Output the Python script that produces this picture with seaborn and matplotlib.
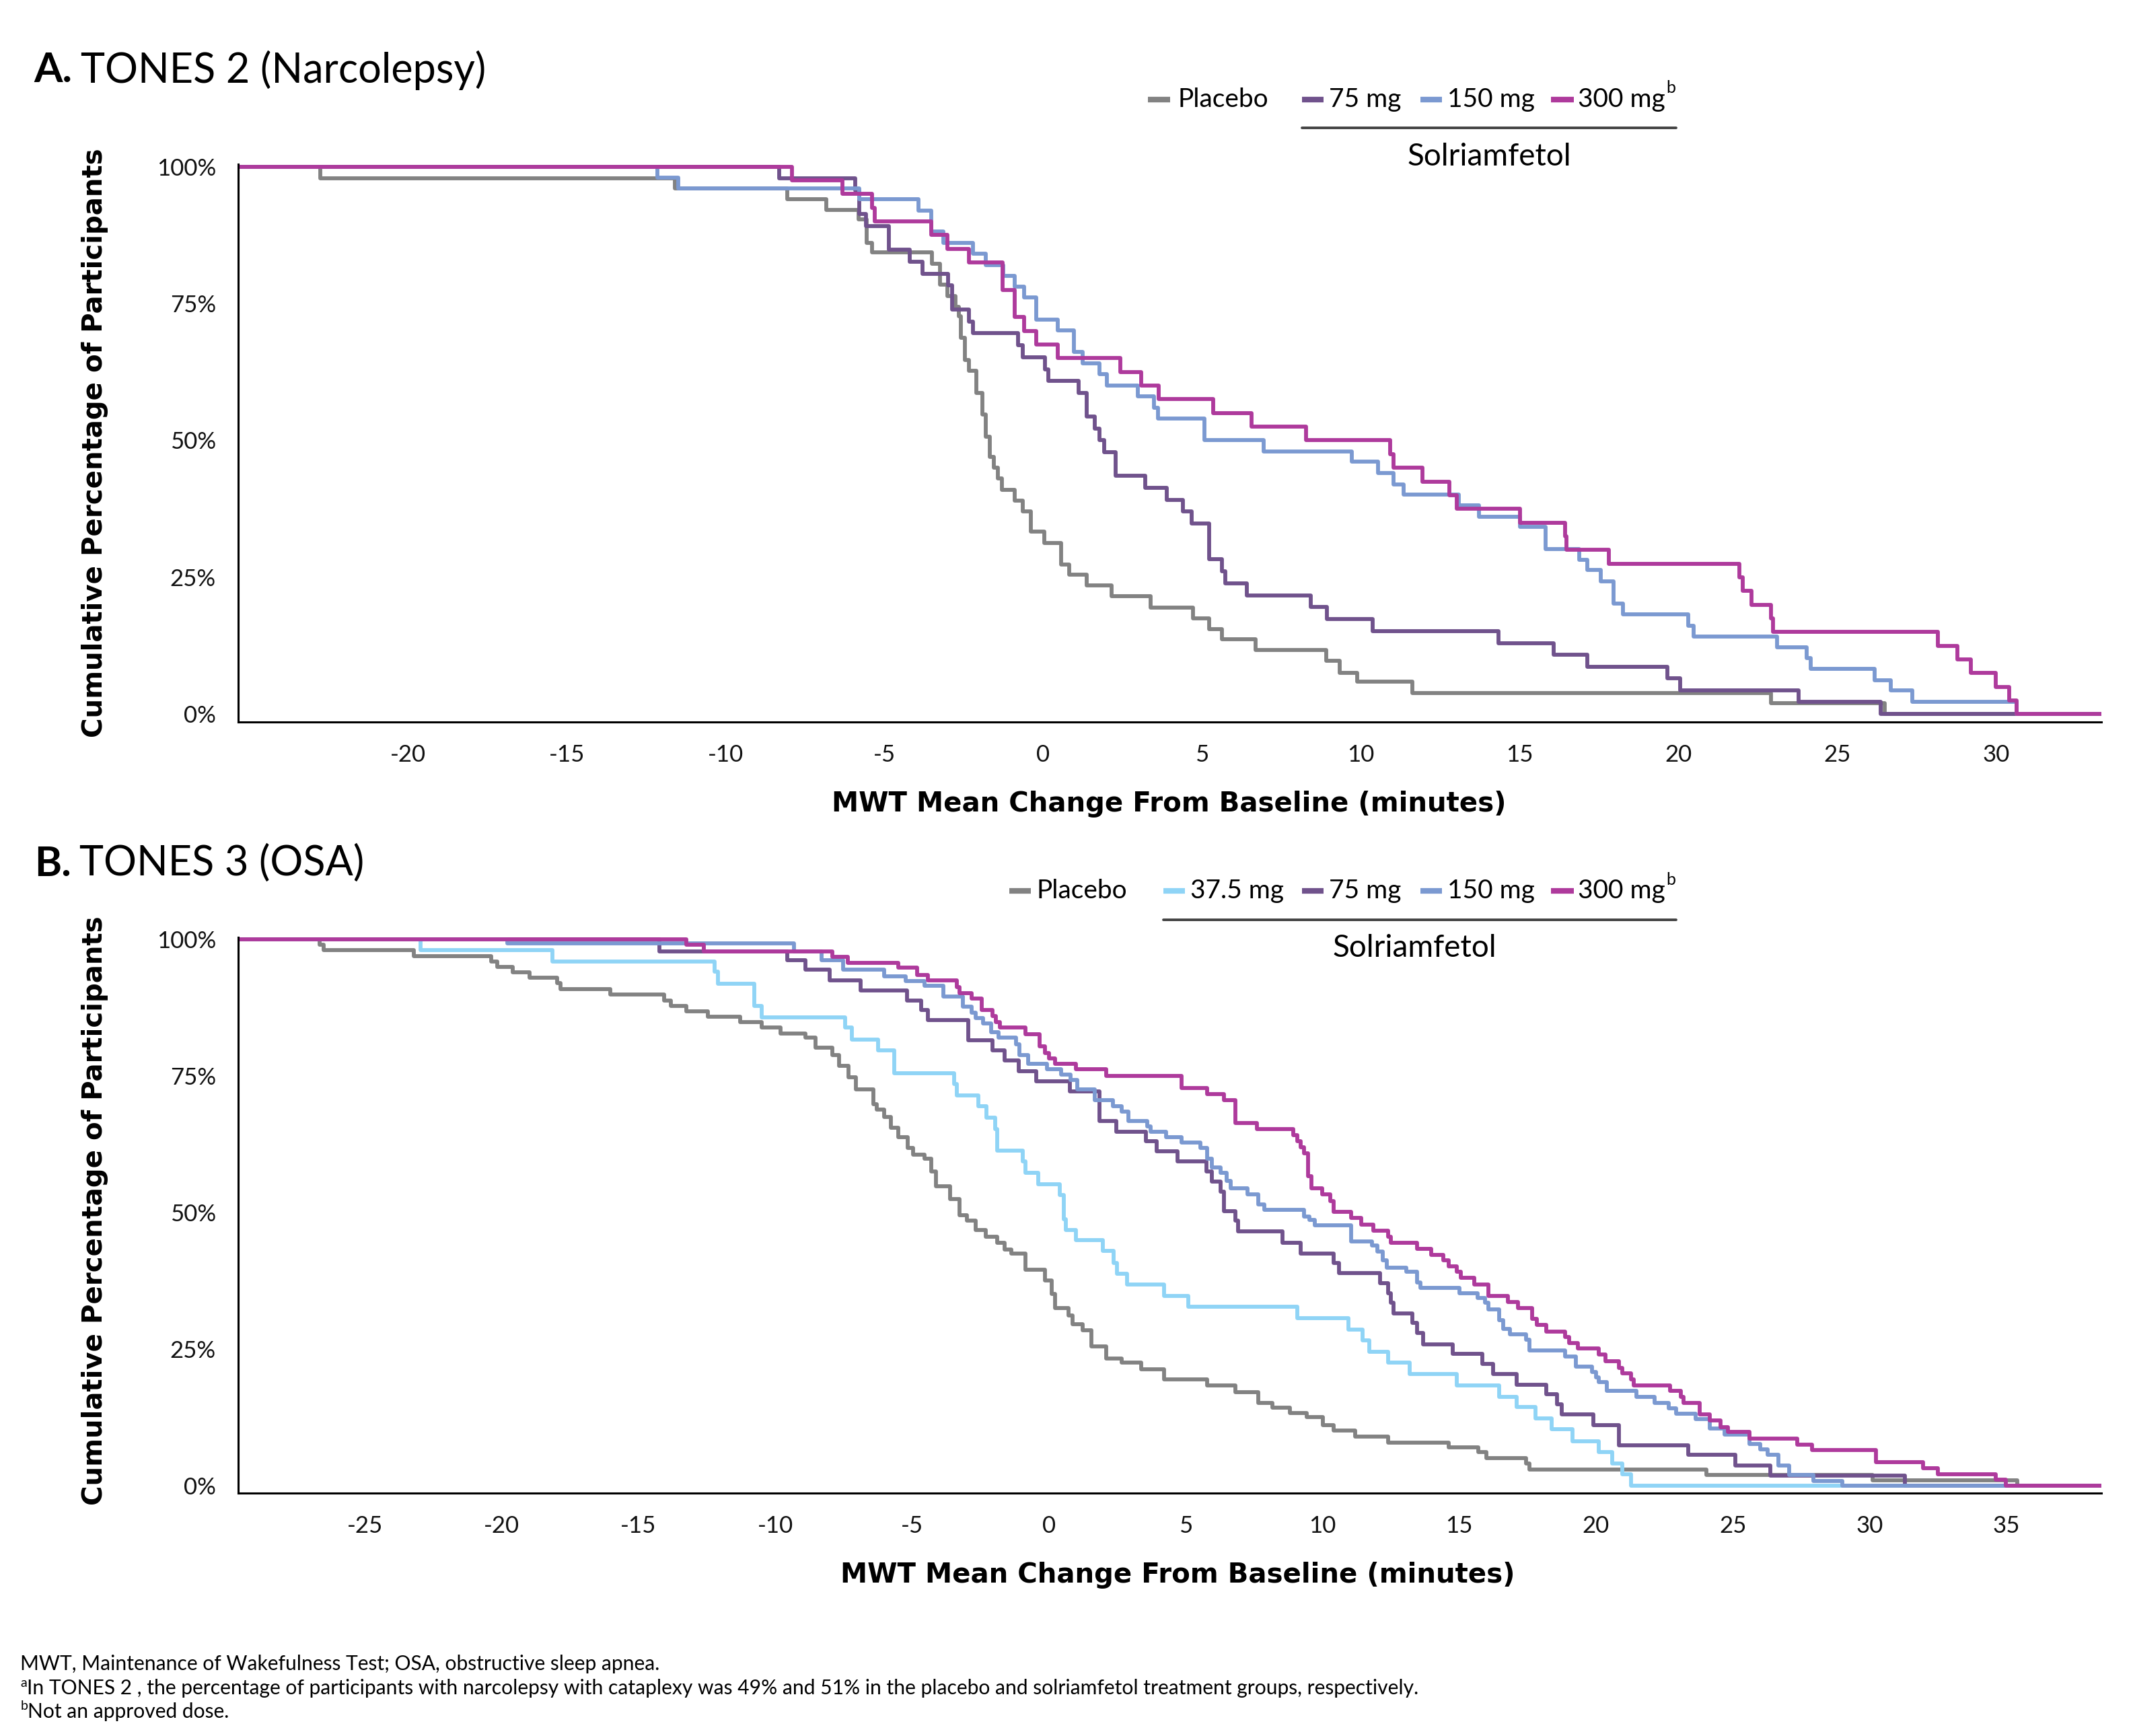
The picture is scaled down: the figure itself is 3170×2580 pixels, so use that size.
import numpy as np
import pandas as pd
import matplotlib
matplotlib.use("Agg")
import matplotlib.pyplot as plt
import seaborn as sns
from matplotlib.lines import Line2D

sns.set_theme(style="white")
plt.rcParams['font.family'] = ['Lato', 'DejaVu Sans']

# ---------------- data ----------------
GROUPS_A = ["Placebo", "75 mg", "150 mg", "300 mg"]
GROUPS_B = ["Placebo", "37.5 mg", "75 mg", "150 mg", "300 mg"]

# Panel A: TONES 2 (Narcolepsy) - step positions (x) and percentage after each step (y)
A_x_placebo = [-22.77, -11.60, -8.06, -6.84, -5.81, -5.57, -5.39, -3.50, -3.26, -3.01, -2.77, -2.65,
               -2.59, -2.47, -2.34, -2.10, -1.92, -1.80, -1.68, -1.55, -1.43, -1.31, -0.89, -0.64,
               -0.40, 0.03, 0.57, 0.82, 1.36, 2.15, 3.37, 4.71, 5.23, 5.62, 6.69, 8.90, 9.33, 9.88,
               11.62, 22.90, 26.50]
A_y_placebo = [97.8, 96.0, 94.1, 92.1, 90.4, 86.1, 84.4, 82.2, 78.4, 76.4, 74.4, 72.7,
               68.7, 64.7, 62.7, 58.7, 54.7, 50.7, 47.0, 45.0, 43.0, 41.0, 39.0, 37.0,
               33.3, 31.3, 27.3, 25.5, 23.5, 21.5, 19.5, 17.5, 15.5, 13.7, 11.7, 9.7, 7.6, 5.9,
               3.9, 2.0, 0.0]

A_x_75 = [-8.32, -5.91, -5.79, -5.59, -4.86, -4.21, -3.80, -2.99, -2.87, -2.35, -2.22, -0.80, -0.64,
          0.05, 0.15, 1.12, 1.36, 1.63, 1.76, 1.91, 2.28, 3.21, 3.89, 4.40, 4.67, 5.22, 5.62, 5.74,
          6.41, 8.42, 8.93, 10.37, 14.33, 16.07, 17.13, 19.65, 20.05, 23.78, 26.37]
A_y_75 = [97.8, 95.7, 91.3, 89.1, 84.8, 82.6, 80.4, 78.3, 73.9, 71.7, 69.6, 67.4, 65.2,
          63.0, 60.9, 58.7, 54.3, 52.2, 50.0, 47.8, 43.5, 41.3, 39.1, 37.0, 34.8, 28.3, 26.1, 23.9,
          21.7, 19.6, 17.4, 15.2, 13.0, 10.9, 8.7, 6.5, 4.3, 2.2, 0.0]

A_x_150 = [-12.15, -11.50, -5.79, -3.93, -3.52, -3.14, -2.22, -1.82, -1.25, -0.89, -0.61, -0.22,
           0.45, 0.97, 1.24, 1.77, 2.01, 2.97, 3.49, 3.61, 5.07, 6.93, 9.71, 10.53, 11.03, 11.34,
           13.09, 13.71, 15.00, 15.81, 16.87, 17.13, 17.55, 17.95, 18.25, 20.31, 20.47, 23.11,
           24.04, 24.15, 26.17, 26.68, 27.35, 30.64]
A_y_150 = [98.0, 96.0, 94.0, 92.0, 88.1, 86.1, 84.1, 82.0, 80.1, 78.1, 76.1, 72.1,
           70.1, 66.1, 64.1, 62.1, 60.0, 58.0, 56.0, 54.0, 50.0, 48.0, 46.1, 44.0, 42.0, 40.1,
           38.2, 36.1, 34.2, 30.1, 28.2, 26.3, 24.2, 20.2, 18.2, 16.2, 14.2, 12.2,
           10.3, 8.3, 6.2, 4.3, 2.2, 0.0]

A_x_300 = [-7.92, -6.32, -5.39, -5.30, -3.52, -3.01, -2.35, -1.29, -0.89, -0.61, -0.22, 0.45,
           2.43, 3.09, 3.64, 5.35, 6.56, 8.27, 10.92, 11.03, 11.93, 12.78, 13.01, 15.00, 16.43,
           16.48, 17.80, 21.91, 22.02, 22.30, 22.91, 22.97, 28.16, 28.78, 29.21, 29.99, 30.41, 30.64]
A_y_300 = [97.5, 95.0, 92.5, 90.0, 87.5, 85.0, 82.5, 77.5, 72.5, 70.0, 67.5, 65.0,
           62.5, 60.0, 57.5, 55.0, 52.5, 50.0, 47.5, 45.0, 42.5, 40.0, 37.5, 35.0, 32.5,
           30.0, 27.5, 25.0, 22.5, 20.0, 17.5, 15.0, 12.5, 10.0, 7.5, 5.0, 2.5, 0.0]

# Panel B: TONES 3 (OSA)
B_x_placebo = [-26.65, -26.51, -23.20, -20.38, -20.16, -19.60, -18.97, -17.98, -17.84, -16.03,
               -14.05, -13.81, -13.25, -12.47, -11.27, -10.50, -9.81, -8.90, -8.52, -7.92,
               -7.66, -7.31, -7.05, -6.42, -6.28, -6.02, -5.76, -5.50, -5.16, -4.95,
               -4.55, -4.29, -4.12, -3.60, -3.26, -3.00, -2.66, -2.31, -1.88, -1.62,
               -1.36, -0.84, -0.15, 0.11, 0.24, 0.71, 0.88, 1.23, 1.57, 2.09,
               2.66, 3.38, 4.21, 5.80, 6.83, 7.66, 8.18, 8.82, 9.42, 10.02,
               10.41, 11.19, 12.41, 14.62, 15.70, 16.00, 17.45, 17.56, 24.03, 30.11, 35.40]
B_y_placebo = [99.0, 98.0, 96.9, 95.9, 94.9, 93.9, 93.0, 92.0, 90.9, 89.9,
               88.8, 87.8, 86.8, 85.8, 84.8, 83.8, 82.8, 82.0, 80.2, 78.8,
               76.8, 74.8, 72.5, 69.8, 68.8, 67.5, 65.5, 63.8, 61.8, 60.6,
               59.8, 57.5, 54.8, 52.5, 49.5, 48.5, 46.8, 45.5, 44.5, 43.2,
               42.5, 39.5, 37.5, 35.1, 32.5, 31.1, 29.5, 28.5, 25.5, 23.3,
               22.5, 21.3, 19.5, 18.3, 17.1, 15.1, 14.3, 13.3, 12.5, 11.1,
               10.1, 9.0, 7.9, 7.0, 6.1, 5.1, 4.1, 3.0, 2.0, 1.0, 0.0]

B_x_37 = [-22.96, -18.15, -12.22, -12.08, -10.76, -10.50, -7.45, -7.19, -6.24, -5.64,
          -3.47, -3.35, -2.57, -2.28, -1.97, -1.88, -0.96, -0.84, -0.38, 0.40,
          0.54, 0.62, 1.00, 1.97, 2.38, 2.49, 2.87, 4.21, 5.11, 9.08,
          10.94, 11.47, 11.72, 12.41, 13.19, 14.90, 16.47, 17.11, 17.80, 18.39,
          19.13, 20.09, 20.60, 20.97, 21.27]
B_y_37 = [98.0, 95.9, 94.1, 91.9, 87.8, 85.7, 83.8, 81.7, 79.7, 75.5,
          73.5, 71.4, 69.4, 67.4, 65.3, 61.3, 59.3, 57.2, 55.2, 53.2,
          48.8, 46.8, 44.9, 43.0, 40.8, 38.8, 36.8, 34.7, 32.7, 30.6,
          28.6, 26.6, 24.5, 22.5, 20.4, 18.4, 16.3, 14.4, 12.3, 10.3,
          8.1, 6.2, 4.1, 2.1, 0.0]

B_x_75 = [-14.24, -9.56, -8.90, -8.00, -6.88, -5.19, -4.67, -4.41, -2.95, -2.05,
          -1.62, -1.10, -0.45, 0.76, 1.86, 2.47, 3.56, 3.95, 4.71, 5.76,
          5.97, 6.28, 6.40, 6.83, 6.92, 8.55, 9.21, 10.41, 10.60, 12.11,
          12.41, 12.51, 12.60, 13.29, 13.45, 13.68, 14.76, 15.84, 16.23, 17.11,
          18.19, 18.58, 18.74, 19.91, 20.84, 23.38, 25.09, 26.38, 31.28]
B_y_75 = [97.8, 96.2, 94.4, 92.5, 90.6, 88.8, 87.0, 85.2, 81.5, 79.7,
          77.8, 75.8, 74.0, 72.2, 66.7, 64.8, 63.0, 61.2, 59.3, 57.5,
          55.7, 53.8, 50.2, 48.5, 46.5, 44.5, 42.5, 40.8, 38.9, 37.1,
          35.2, 33.5, 31.5, 29.8, 27.9, 25.9, 24.1, 22.3, 20.4, 18.5,
          16.7, 14.9, 13.0, 11.1, 7.4, 5.6, 3.7, 1.9, 0.0]

B_x_150 = [-19.78, -9.30, -8.31, -7.52, -6.02, -5.24, -4.55, -3.86, -3.14, -2.83,
           -2.66, -2.40, -2.10, -1.83, -1.19, -1.07, -0.76, -0.07, 0.45, 0.80,
           1.05, 1.69, 2.35, 2.66, 2.90, 3.59, 3.73, 4.28, 4.85, 5.54,
           5.80, 5.97, 6.28, 6.49, 6.66, 7.26, 7.66, 7.87, 9.33, 9.53,
           9.72, 11.04, 11.82, 12.02, 12.21, 12.35, 13.06, 13.45, 13.58, 15.01,
           15.68, 15.94, 16.07, 16.47, 16.62, 16.86, 17.45, 17.56, 18.88, 19.27,
           19.86, 19.99, 20.11, 20.39, 21.48, 22.15, 22.66, 22.93, 23.64, 24.17,
           24.70, 25.60, 25.99, 26.27, 26.66, 27.05, 27.95, 29.01]
B_y_150 = [99.2, 97.8, 96.2, 94.4, 93.2, 92.4, 91.5, 89.5, 87.7, 86.6,
           85.6, 84.6, 83.0, 82.0, 80.8, 78.8, 77.2, 76.2, 75.2, 74.2,
           72.5, 70.6, 69.5, 68.5, 66.8, 65.8, 64.8, 63.8, 62.8, 61.8,
           59.8, 58.2, 57.2, 55.8, 54.4, 53.3, 51.5, 50.5, 49.3, 48.6,
           47.6, 44.7, 43.9, 42.9, 41.2, 39.9, 39.2, 37.2, 36.2, 35.2,
           34.3, 33.5, 32.3, 30.3, 28.7, 27.7, 26.7, 24.7, 23.6, 21.8,
           20.8, 19.8, 18.9, 17.4, 16.3, 15.2, 14.1, 13.2, 12.2, 10.4,
           9.4, 7.6, 6.6, 5.7, 3.7, 2.0, 0.9, 0.0]

B_x_300 = [-13.25, -12.61, -7.92, -7.35, -5.50, -4.81, -4.41, -3.35, -3.26, -2.83,
           -2.45, -2.05, -1.93, -1.79, -0.84, -0.33, -0.15, 0.02, 0.24, 1.00,
           2.09, 4.85, 5.80, 6.40, 6.83, 7.61, 8.94, 9.08, 9.21, 9.33,
           9.47, 9.61, 10.00, 10.29, 10.41, 11.04, 11.43, 11.86, 12.41, 12.51,
           13.45, 13.98, 14.41, 14.62, 14.92, 15.05, 15.54, 16.07, 16.78, 17.15,
           17.66, 17.84, 18.19, 18.88, 19.01, 19.33, 20.11, 20.35, 20.84, 20.97,
           21.27, 21.37, 22.70, 23.09, 23.19, 23.78, 24.17, 24.56, 24.82, 25.60,
           27.36, 27.89, 30.24, 31.95, 32.50, 34.61, 34.99]
B_y_300 = [99.0, 97.8, 96.85, 95.7, 94.8, 93.5, 92.5, 91.3, 90.2, 89.2,
           87.0, 86.0, 84.8, 83.8, 82.6, 80.4, 79.2, 78.2, 77.2, 76.2,
           75.0, 72.8, 71.7, 70.6, 66.4, 65.3, 64.1, 63.0, 61.9, 60.8,
           56.6, 54.4, 53.3, 52.1, 50.1, 49.0, 47.8, 46.7, 45.6, 44.5,
           43.4, 42.2, 41.2, 40.2, 39.1, 38.0, 36.8, 34.7, 33.6, 32.5,
           30.5, 29.4, 28.2, 27.2, 26.1, 25.1, 24.0, 22.8, 21.6, 20.6,
           19.5, 18.4, 17.3, 16.2, 15.1, 13.0, 11.9, 10.7, 9.8, 8.6,
           7.5, 6.5, 4.3, 3.2, 2.1, 1.1, 0.0]

A_XTICKS = [-20, -15, -10, -5, 0, 5, 10, 15, 20, 25, 30]
B_XTICKS = [-25, -20, -15, -10, -5, 0, 5, 10, 15, 20, 25, 30, 35]
Y_TICKS = [0, 25, 50, 75, 100]
Y_TICKLABELS = ["0%", "25%", "50%", "75%", "100%"]

COLORS = {"Placebo": "#828282", "37.5 mg": "#8fd4f6", "75 mg": "#70528c",
          "150 mg": "#7b99d1", "300 mg": "#ae3a9c"}

A_XLIM = (-25.35, 33.32)
B_XLIM = (-29.63, 38.48)
YLIM = (-1.4, 100.4)

SERIES_A = {"Placebo": (A_x_placebo, A_y_placebo), "75 mg": (A_x_75, A_y_75),
            "150 mg": (A_x_150, A_y_150), "300 mg": (A_x_300, A_y_300)}
SERIES_B = {"Placebo": (B_x_placebo, B_y_placebo), "37.5 mg": (B_x_37, B_y_37),
            "75 mg": (B_x_75, B_y_75), "150 mg": (B_x_150, B_y_150), "300 mg": (B_x_300, B_y_300)}


def build_frame(series, xlim):
    rows = []
    for g, (xs, ys) in series.items():
        n = min(len(xs), len(ys))
        px = [xlim[0]] + list(xs[:n]) + [xlim[1]]
        py = [100.0] + list(ys[:n]) + [ys[n - 1]]
        for a, b in zip(px, py):
            rows.append((g, a, b))
    return pd.DataFrame(rows, columns=["group", "x", "y"])


dfA = build_frame(SERIES_A, A_XLIM)
dfB = build_frame(SERIES_B, B_XLIM)

W, H, DPI = 3170, 2580, 200
fig = plt.figure(figsize=(W / DPI, H / DPI), dpi=DPI)
fig.patch.set_facecolor("white")

axA = fig.add_axes([0.1116, 0.5842, 0.8737, 0.3211])
axB = fig.add_axes([0.1116, 0.1398, 0.8737, 0.3204])

LW = 2.1
for ax, df, order, xlim, xt in [(axA, dfA, GROUPS_A, A_XLIM, A_XTICKS),
                                (axB, dfB, GROUPS_B, B_XLIM, B_XTICKS)]:
    sns.lineplot(data=df, x="x", y="y", hue="group", hue_order=order, palette=COLORS,
                 estimator=None, sort=False, drawstyle="steps-post", linewidth=LW,
                 legend=False, ax=ax)
    ax.set_xlim(*xlim)
    ax.set_ylim(*YLIM)
    ax.set_xticks(xt)
    ax.set_xticklabels([str(t) for t in xt])
    ax.set_yticks(Y_TICKS)
    ax.set_yticklabels(Y_TICKLABELS)
    ax.set_xlabel("")
    ax.set_ylabel("")
    for s in ["top", "right"]:
        ax.spines[s].set_visible(False)
    for s in ["left", "bottom"]:
        ax.spines[s].set_color("black")
        ax.spines[s].set_linewidth(1.1)
    ax.tick_params(axis="both", which="major", direction="out", length=3.8, width=1.0,
                   color="black", labelsize=12.5, labelcolor="#111111")
    ax.tick_params(axis="y", pad=8)
    ax.tick_params(axis="x", pad=8)
    ax.set_facecolor("white")
    ax.grid(False)

LABEL_FONT = dict(family="DejaVu Sans", weight="bold", size=14.5, color="black")
fig.text(0.0446, 0.745, "Cumulative Percentage of Participants", rotation=90,
         ha="center", va="center", **LABEL_FONT)
fig.text(0.0446, 0.3025, "Cumulative Percentage of Participants", rotation=90,
         ha="center", va="center", **LABEL_FONT)
fig.text(0.548, 0.537, "MWT Mean Change From Baseline (minutes)", ha="center",
         va="center", **LABEL_FONT)
fig.text(0.552, 0.0925, "MWT Mean Change From Baseline (minutes)", ha="center",
         va="center", **LABEL_FONT)

fig.canvas.draw()
renderer = fig.canvas.get_renderer()
inv = fig.transFigure.inverted()


def seq_text(x, y, pieces):
    cur = x
    for s, kw, dy, gap in pieces:
        t = fig.text(cur + gap, y + dy, s, **kw)
        bb = t.get_window_extent(renderer=renderer)
        cur = inv.transform((bb.x1, bb.y1))[0]
    return cur


TITLE_B = dict(weight="bold", size=22, color="black", va="center", ha="left")
TITLE_R = dict(weight="normal", size=22, color="black", va="center", ha="left")
seq_text(0.016, 0.9595, [("A.", TITLE_B, 0, 0), ("TONES 2 (Narcolepsy)", TITLE_R, 0, 0.004)])
seq_text(0.016, 0.5025, [("B.", TITLE_B, 0, 0), ("TONES 3 (OSA)", TITLE_R, 0, 0.004)])

LEG = dict(size=14, color="black", va="center", ha="left")
SUP = dict(size=9, color="black", va="center", ha="left")


def px2fx(p):
    return p / 1568.0


def py2fy(p):
    return 1 - p / 1276.0


def legend_row(entries, y_px, line_x, line_y_px, sol_x, sol_y_px):
    fy = py2fy(y_px)
    for label, h0, h1, t0, sup in entries:
        fig.add_artist(Line2D([px2fx(h0), px2fx(h1)], [fy, fy], transform=fig.transFigure,
                              color=COLORS[label], lw=3.0, solid_capstyle="butt"))
        pieces = [(label, LEG, 0, 0)]
        if sup:
            pieces.append(("b", SUP, 0.0065, 0.0005))
        seq_text(px2fx(t0), fy, pieces)
    fig.add_artist(Line2D([px2fx(line_x[0]), px2fx(line_x[1])], [py2fy(line_y_px)] * 2,
                          transform=fig.transFigure, color="#444444", lw=1.4))
    fig.text(px2fx(sol_x), py2fy(sol_y_px), "Solriamfetol", ha="center", va="center",
             size=16.5, color="black")


legend_row([("Placebo", 844, 860, 866, False), ("75 mg", 957, 973, 977, False),
            ("150 mg", 1044, 1060, 1064, False), ("300 mg", 1140, 1157, 1160, True)],
           73, (957, 1232), 94, 1095, 115)
legend_row([("Placebo", 742, 758, 762, False), ("37.5 mg", 855, 871, 875, False),
            ("75 mg", 957, 973, 977, False), ("150 mg", 1044, 1060, 1064, False),
            ("300 mg", 1140, 1157, 1160, True)],
           655, (855, 1232), 676, 1040, 697)

FOOT = dict(size=10.8, color="black", va="center", ha="left")
FSUP = dict(size=7, color="black", va="center", ha="left")
seq_text(0.0096, py2fy(1223), [("MWT, Maintenance of Wakefulness Test; OSA, obstructive sleep apnea.", FOOT, 0, 0)])
seq_text(0.0096, py2fy(1241), [("a", FSUP, 0.003, 0),
                               ("In TONES 2 , the percentage of participants with narcolepsy with cataplexy was 49% and 51% in the placebo and solriamfetol treatment groups, respectively.", FOOT, 0, 0)])
seq_text(0.0096, py2fy(1258), [("b", FSUP, 0.003, 0), ("Not an approved dose.", FOOT, 0, 0)])

fig.savefig("out.png", dpi=DPI, facecolor="white")
